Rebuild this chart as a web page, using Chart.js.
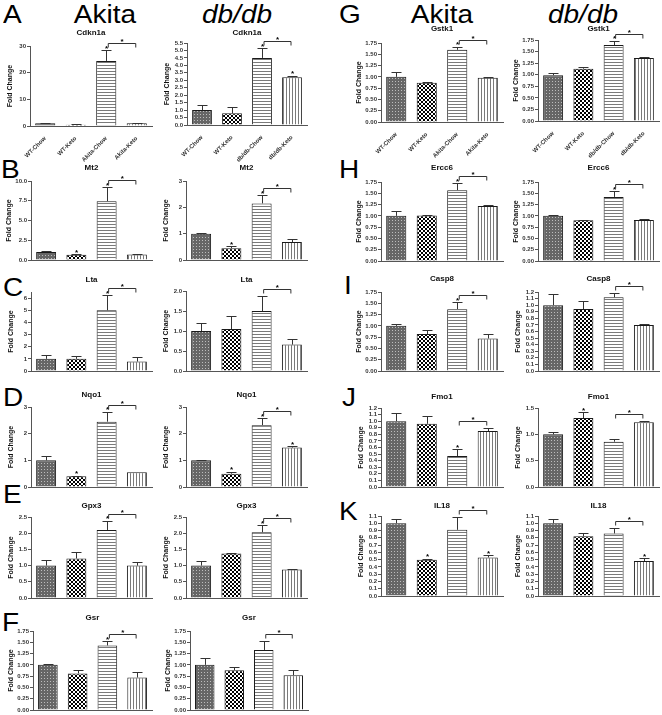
<!DOCTYPE html>
<html><head><meta charset="utf-8">
<script src="https://cdn.jsdelivr.net/npm/chart.js@4.4.1/dist/chart.umd.min.js"></script>
<style>
html,body{margin:0;padding:0;background:#fff;}
#fig{position:relative;width:662px;height:715px;overflow:hidden;font-family:'Liberation Sans',Arial,sans-serif;color:#000;}
.lt{position:absolute;font-size:25px;line-height:24px;transform:scaleX(1.12);transform-origin:left top;}
.hd{position:absolute;font-size:25px;line-height:24px;width:120px;text-align:center;transform:scaleX(1.12);transform-origin:center top;}
canvas{position:absolute;}
</style></head><body><div id="fig"></div>
<script>
// ---------- categories ----------
const groupsAkita = ['WT-Chow', 'WT-Keto', 'Akita-Chow', 'Akita-Keto'];
const groupsDb = ['WT-Chow', 'WT-Keto', 'db/db-Chow', 'db/db-Keto'];

// ---------- values (mean, SEM, significance star) ----------
const cdkn1aAkitaMean = [1.0, 0.5, 24.4, 1.0];
const cdkn1aAkitaSem  = [0.15, 0.1, 4.1, 0.15];
const cdkn1aAkitaStar = [0, 0, 1, 0];
const cdkn1aDbMean = [1.0, 0.78, 4.5, 3.2];
const cdkn1aDbSem  = [0.35, 0.44, 0.65, 0.1];
const cdkn1aDbStar = [0, 0, 1, 1];

const mt2AkitaMean = [1.0, 0.65, 7.45, 0.7];
const mt2AkitaSem  = [0.15, 0.1, 1.75, 0.05];
const mt2AkitaStar = [0, 1, 1, 0];
const mt2DbMean = [1.0, 0.45, 2.15, 0.68];
const mt2DbSem  = [0.03, 0.07, 0.3, 0.1];
const mt2DbStar = [0, 1, 1, 0];

const ltaAkitaMean = [1.0, 1.0, 5.0, 0.78];
const ltaAkitaSem  = [0.3, 0.22, 1.25, 0.37];
const ltaAkitaStar = [0, 0, 1, 0];
const ltaDbMean = [1.0, 1.05, 1.5, 0.66];
const ltaDbSem  = [0.2, 0.33, 0.38, 0.14];
const ltaDbStar = [0, 0, 0, 0];

const nqo1AkitaMean = [1.0, 0.4, 2.45, 0.55];
const nqo1AkitaSem  = [0.18, 0.03, 0.38, 0.0];
const nqo1AkitaStar = [0, 1, 1, 0];
const nqo1DbMean = [1.0, 0.5, 2.32, 1.48];
const nqo1DbSem  = [0.01, 0.08, 0.25, 0.04];
const nqo1DbStar = [0, 1, 1, 1];

const gpx3AkitaMean = [1.0, 1.22, 2.1, 1.0];
const gpx3AkitaSem  = [0.17, 0.2, 0.28, 0.1];
const gpx3AkitaStar = [0, 0, 1, 0];
const gpx3DbMean = [1.0, 1.37, 2.03, 0.88];
const gpx3DbSem  = [0.13, 0.03, 0.22, 0.02];
const gpx3DbStar = [0, 0, 1, 0];

const gsrAkitaMean = [1.0, 0.81, 1.43, 0.72];
const gsrAkitaSem  = [0.02, 0.08, 0.09, 0.12];
const gsrAkitaStar = [0, 0, 1, 0];
const gsrDbMean = [1.0, 0.88, 1.33, 0.77];
const gsrDbSem  = [0.15, 0.07, 0.19, 0.11];
const gsrDbStar = [0, 0, 0, 0];

const gstk1AkitaMean = [1.0, 0.87, 1.6, 0.98];
const gstk1AkitaSem  = [0.1, 0.02, 0.07, 0.01];
const gstk1AkitaStar = [0, 0, 1, 0];
const gstk1DbMean = [0.99, 1.13, 1.64, 1.36];
const gstk1DbSem  = [0.05, 0.03, 0.09, 0.02];
const gstk1DbStar = [0, 0, 1, 0];

const ercc6AkitaMean = [1.0, 1.01, 1.57, 1.22];
const ercc6AkitaSem  = [0.1, 0.02, 0.15, 0.02];
const ercc6AkitaStar = [0, 0, 1, 0];
const ercc6DbMean = [1.0, 0.9, 1.42, 0.91];
const ercc6DbSem  = [0.02, 0.005, 0.12, 0.01];
const ercc6DbStar = [0, 0, 1, 0];

const casp8AkitaMean = [1.0, 0.82, 1.37, 0.72];
const casp8AkitaSem  = [0.04, 0.08, 0.15, 0.1];
const casp8AkitaStar = [0, 0, 1, 0];
const casp8DbMean = [1.0, 0.94, 1.12, 0.7];
const casp8DbSem  = [0.17, 0.12, 0.06, 0.02];
const casp8DbStar = [0, 0, 0, 0];

const fmo1AkitaMean = [1.0, 0.96, 0.47, 0.85];
const fmo1AkitaSem  = [0.13, 0.12, 0.1, 0.05];
const fmo1AkitaStar = [0, 0, 1, 0];
const fmo1DbMean = [1.0, 1.31, 0.86, 1.23];
const fmo1DbSem  = [0.04, 0.11, 0.05, 0.02];
const fmo1DbStar = [0, 1, 0, 0];

const il18AkitaMean = [1.0, 0.5, 0.91, 0.53];
const il18AkitaSem  = [0.06, 0.01, 0.18, 0.03];
const il18AkitaStar = [0, 1, 0, 1];
const il18DbMean = [1.0, 0.82, 0.86, 0.48];
const il18DbSem  = [0.06, 0.05, 0.07, 0.04];
const il18DbStar = [0, 0, 0, 1];

// ---------- y tick labels ----------
const ticks0to30 = ['0', '10', '20', '30'];
const ticks0to5p5 = ['0.0','0.5','1.0','1.5','2.0','2.5','3.0','3.5','4.0','4.5','5.0','5.5'];
const ticks0to10 = ['0.0', '2.5', '5.0', '7.5', '10.0'];
const ticks0to3 = ['0', '1', '2', '3'];
const ticks0to6 = ['0', '1', '2', '3', '4', '5', '6'];
const ticks0to2 = ['0.0', '0.5', '1.0', '1.5', '2.0'];
const ticks0to2p5 = ['0.0', '0.5', '1.0', '1.5', '2.0', '2.5'];
const ticks0to1p75 = ['0.00', '0.25', '0.50', '0.75', '1.00', '1.25', '1.50', '1.75'];
const ticks0to1p2 = ['0.0','0.1','0.2','0.3','0.4','0.5','0.6','0.7','0.8','0.9','1.0','1.1','1.2'];
const ticks0to1p5 = ['0.0', '0.5', '1.0', '1.5'];
const ticks0to1p1 = ['0.0','0.1','0.2','0.3','0.4','0.5','0.6','0.7','0.8','0.9','1.0','1.1'];

// ---------- panel specs (data refs + placement) ----------
// box: [axis left x, axis right x, y of axis top, y of zero, title center y]
const panels = [
  {gene:'Cdkn1a', g:groupsAkita, m:cdkn1aAkitaMean, e:cdkn1aAkitaSem, s:cdkn1aAkitaStar, t:ticks0to30, max:30, box:[30,152,46,126,33], lab:true},
  {gene:'Cdkn1a', g:groupsDb, m:cdkn1aDbMean, e:cdkn1aDbSem, s:cdkn1aDbStar, t:ticks0to5p5, max:5.5, box:[187,307,43,125,33], lab:true},
  {gene:'Mt2', g:groupsAkita, m:mt2AkitaMean, e:mt2AkitaSem, s:mt2AkitaStar, t:ticks0to10, max:10, box:[31,152,181,260,168]},
  {gene:'Mt2', g:groupsDb, m:mt2DbMean, e:mt2DbSem, s:mt2DbStar, t:ticks0to3, max:3, box:[186,307,181,260,168]},
  {gene:'Lta', g:groupsAkita, m:ltaAkitaMean, e:ltaAkitaSem, s:ltaAkitaStar, t:ticks0to6, max:6.5, box:[31,152,292,371,280]},
  {gene:'Lta', g:groupsDb, m:ltaDbMean, e:ltaDbSem, s:ltaDbStar, t:ticks0to2, max:2, box:[186,307,291,371,280]},
  {gene:'Nqo1', g:groupsAkita, m:nqo1AkitaMean, e:nqo1AkitaSem, s:nqo1AkitaStar, t:ticks0to3, max:3, box:[31,152,407,487,395]},
  {gene:'Nqo1', g:groupsDb, m:nqo1DbMean, e:nqo1DbSem, s:nqo1DbStar, t:ticks0to3, max:3, box:[186,307,407,487,395]},
  {gene:'Gpx3', g:groupsAkita, m:gpx3AkitaMean, e:gpx3AkitaSem, s:gpx3AkitaStar, t:ticks0to2p5, max:2.5, box:[31,152,517,598,506]},
  {gene:'Gpx3', g:groupsDb, m:gpx3DbMean, e:gpx3DbSem, s:gpx3DbStar, t:ticks0to2p5, max:2.5, box:[186,307,517,598,506]},
  {gene:'Gsr', g:groupsAkita, m:gsrAkitaMean, e:gsrAkitaSem, s:gsrAkitaStar, t:ticks0to1p75, max:1.75, box:[33,152,631,710,618]},
  {gene:'Gsr', g:groupsDb, m:gsrDbMean, e:gsrDbSem, s:gsrDbStar, t:ticks0to1p75, max:1.75, box:[190,308,631,710,618]},
  {gene:'Gstk1', g:groupsAkita, m:gstk1AkitaMean, e:gstk1AkitaSem, s:gstk1AkitaStar, t:ticks0to1p75, max:1.75, box:[381,503,43,122,29], lab:true},
  {gene:'Gstk1', g:groupsDb, m:gstk1DbMean, e:gstk1DbSem, s:gstk1DbStar, t:ticks0to1p75, max:1.75, box:[538,659,40,121,29], lab:true},
  {gene:'Ercc6', g:groupsAkita, m:ercc6AkitaMean, e:ercc6AkitaSem, s:ercc6AkitaStar, t:ticks0to1p75, max:1.75, box:[381,503,182,261,168]},
  {gene:'Ercc6', g:groupsDb, m:ercc6DbMean, e:ercc6DbSem, s:ercc6DbStar, t:ticks0to1p75, max:1.75, box:[538,659,182,261,168]},
  {gene:'Casp8', g:groupsAkita, m:casp8AkitaMean, e:casp8AkitaSem, s:casp8AkitaStar, t:ticks0to1p75, max:1.75, box:[381,503,292,371,279]},
  {gene:'Casp8', g:groupsDb, m:casp8DbMean, e:casp8DbSem, s:casp8DbStar, t:ticks0to1p2, max:1.2, box:[538,659,292,371,279]},
  {gene:'Fmo1', g:groupsAkita, m:fmo1AkitaMean, e:fmo1AkitaSem, s:fmo1AkitaStar, t:ticks0to1p2, max:1.2, box:[381,503,408,487,397]},
  {gene:'Fmo1', g:groupsDb, m:fmo1DbMean, e:fmo1DbSem, s:fmo1DbStar, t:ticks0to1p5, max:1.5, box:[538,659,408,487,397]},
  {gene:'IL18', g:groupsAkita, m:il18AkitaMean, e:il18AkitaSem, s:il18AkitaStar, t:ticks0to1p1, max:1.1, box:[381,503,516,596,506]},
  {gene:'IL18', g:groupsDb, m:il18DbMean, e:il18DbSem, s:il18DbStar, t:ticks0to1p1, max:1.1, box:[538,659,516,596,506]}
];

const letters = [['A',3,2],['B',1,157],['C',3,275],['D',3,385],['E',3,482],['F',2,610],
                 ['G',339,2],['H',339,157],['I',344,273],['J',342,385],['K',339,499]];
const headings = [['Akita',105,false],['db/db',237,true],['Akita',442,false],['db/db',583,true]];

const FONT = "'Liberation Sans', Arial, sans-serif";
const fig = document.getElementById('fig');

letters.forEach(([txt,x,y])=>{
  const d=document.createElement('div'); d.className='lt'; d.textContent=txt;
  d.style.left=x+'px'; d.style.top=y+'px'; fig.appendChild(d);
});
headings.forEach(([txt,cx,it])=>{
  const d=document.createElement('div'); d.className='hd'; d.textContent=txt;
  d.style.left=(cx-60)+'px'; d.style.top='2px'; if(it) d.style.fontStyle='italic'; fig.appendChild(d);
});

function makePattern(kind){
  const c=document.createElement('canvas'); const x=c.getContext('2d');
  if(kind===0){ c.width=3;c.height=3; x.fillStyle='#666'; x.fillRect(0,0,3,3); x.fillStyle='#bdbdbd'; x.fillRect(1,1,1,1); }
  else if(kind===1){ c.width=4;c.height=4; x.fillStyle='#fff'; x.fillRect(0,0,4,4); x.fillStyle='#000'; x.fillRect(0,0,2,2); x.fillRect(2,2,2,2); }
  else if(kind===2){ c.width=1;c.height=3; x.fillStyle='#fff'; x.fillRect(0,0,1,3); x.fillStyle='#7a7a7a'; x.fillRect(0,0,1,1); }
  else { c.width=3;c.height=1; x.fillStyle='#fff'; x.fillRect(0,0,3,1); x.fillStyle='#7a7a7a'; x.fillRect(0,0,1,1); }
  return x.createPattern(c,'repeat');
}

const TOPPAD = 20;

const marks = {
  id:'marks',
  afterDatasetsDraw(chart, args, opts){
    const p = opts.panel; const ctx = chart.ctx;
    const meta = chart.getDatasetMeta(0); const ys = chart.scales.y;
    const tops = [];
    ctx.save();
    ctx.strokeStyle='#333'; ctx.lineWidth=1; ctx.fillStyle='#000';
    ctx.font = 'bold 8px ' + FONT; ctx.textAlign='center'; ctx.textBaseline='alphabetic';
    meta.data.forEach((bar,i)=>{
      const x = Math.round(bar.x)+0.5;
      const y0 = ys.getPixelForValue(p.m[i]);
      const y1 = ys.getPixelForValue(p.m[i]+p.e[i]);
      tops.push(y1);
      if (p.e[i] > 0) {
        ctx.beginPath();
        ctx.moveTo(x, y0); ctx.lineTo(x, Math.round(y1)+0.5);
        ctx.moveTo(x-5, Math.round(y1)+0.5); ctx.lineTo(x+5, Math.round(y1)+0.5);
        ctx.stroke();
      }
      if (p.s[i]) ctx.fillText('*', x, y1 + 0.5);
    });
    // bracket between the Chow and Keto groups
    const xa = meta.data[2].x + 2, xb = meta.data[3].x - 1;
    const yb = Math.round(Math.min(tops[2], tops[3]) - 7) + 0.5;
    ctx.beginPath();
    ctx.moveTo(xa, yb+4); ctx.lineTo(xa, yb); ctx.lineTo(xb, yb); ctx.lineTo(xb, yb+4);
    ctx.stroke();
    ctx.fillText('*', (xa+xb)/2, yb + 0.5);
    // gene title
    const ca = chart.chartArea;
    ctx.font = 'bold 8px ' + FONT; ctx.textBaseline='middle'; ctx.fillStyle='#111';
    ctx.fillText(p.gene, (ca.left+ca.right)/2, p.box[4] - (p.box[2]-TOPPAD));
    ctx.restore();
  }
};

const pats = [0,1,2,3].map(makePattern);

panels.forEach(p=>{
  const [ax, ar, yt, yz, ty] = p.box;
  const YW = Math.max(...p.t.map(s=>s.length)) >= 4 ? 26 : 24;
  const bottomH = p.lab ? 44 : 5;
  const W = (ar-ax) + YW + 4, H = (yz-yt) + TOPPAD + bottomH;
  const cv=document.createElement('canvas'); cv.width=W; cv.height=H;
  cv.style.left=(ax-YW)+'px'; cv.style.top=(yt-TOPPAD)+'px'; cv.style.width=W+'px'; cv.style.height=H+'px';
  fig.appendChild(cv);
  const tickVals = p.t.map(parseFloat);
  new Chart(cv.getContext('2d'), {
    type:'bar',
    data:{ labels:p.g, datasets:[{ data:p.m, backgroundColor:pats, borderColor:'#1a1a1a', borderWidth:1,
      barPercentage:0.66, categoryPercentage:1 }]},
    options:{
      responsive:false, animation:false, devicePixelRatio:1,
      layout:{ padding:{ top:TOPPAD, left:0, right:4, bottom:0 } },
      plugins:{ legend:{display:false}, tooltip:{enabled:false}, title:{display:false}, marks:{panel:p} },
      scales:{
        x:{ grid:{display:false}, border:{display:true, color:'#555', width:1},
            ticks:{ display:!!p.lab, autoSkip:false, maxRotation:45, minRotation:45, padding:1,
                    font:{family:FONT, size:6, weight:'bold'}, color:'#333' },
            afterFit(s){ s.height = bottomH; } },
        y:{ min:0, max:p.max,
            grid:{ display:true, drawOnChartArea:false, drawTicks:true, tickLength:3, color:'#555' },
            border:{ display:true, color:'#555', width:1 },
            ticks:{ autoSkip:false, padding:1, font:{family:FONT, size:6, weight:'bold'}, color:'#333',
                    callback:(v,i)=>p.t[i] },
            afterBuildTicks(s){ s.ticks = tickVals.map(v=>({value:v})); },
            title:{ display:true, text:'Fold Change', font:{family:FONT, size:7, weight:'bold'}, color:'#111', padding:{top:0,bottom:0} },
            afterFit(s){ s.width = YW; } }
      }
    },
    plugins:[marks]
  });
});
</script></body></html>
